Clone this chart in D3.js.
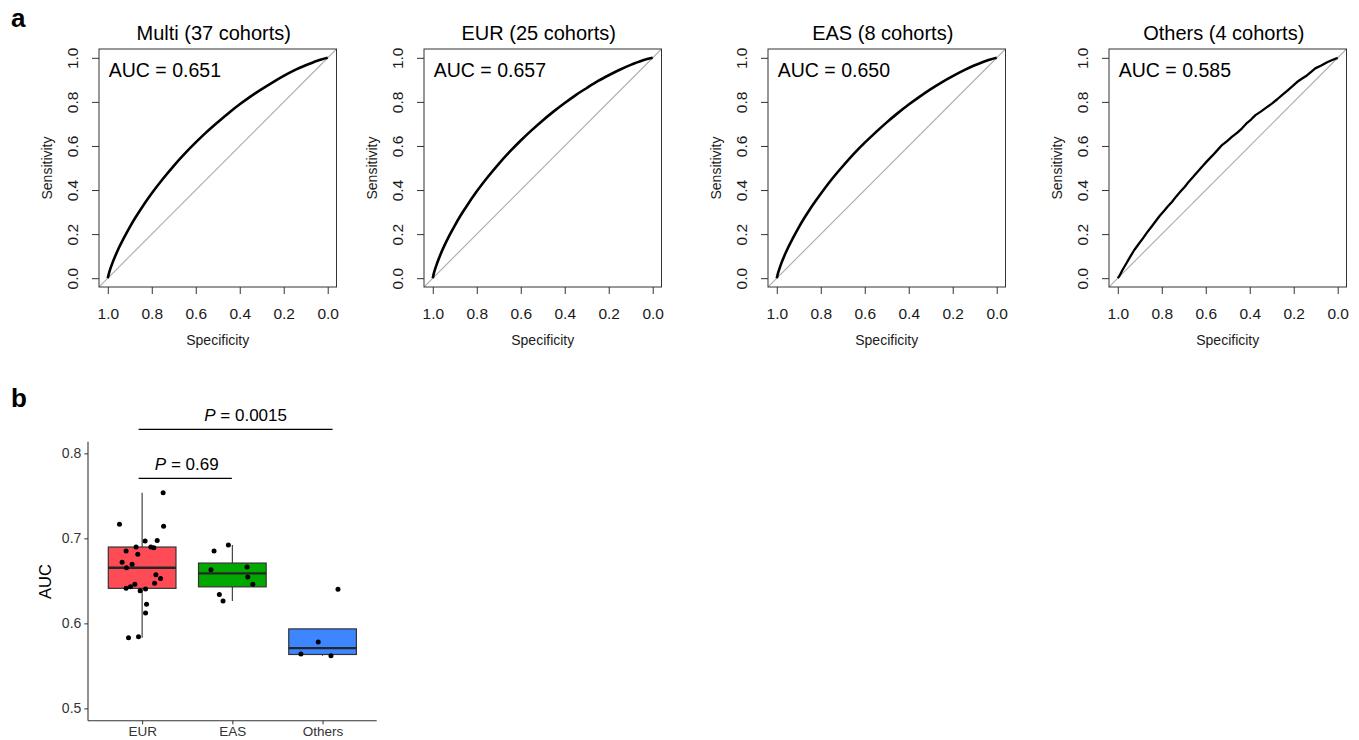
<!DOCTYPE html>
<html>
<head>
<meta charset="utf-8">
<script src="https://cdn.jsdelivr.net/npm/d3@7"></script>
<style>
  body { margin: 0; background: #fff; }
  svg { display: block; font-family: "Liberation Sans", Arial, Helvetica, sans-serif; }
</style>
</head>
<body>
<svg id="fig" width="1359" height="740"></svg>
<script>
// ---------- Panel a: ROC curves ----------
const rocTitles = ["Multi (37 cohorts)", "EUR (25 cohorts)", "EAS (8 cohorts)", "Others (4 cohorts)"];
const rocAUC = ["0.651", "0.657", "0.650", "0.585"];
const rocTicks = [1.0, 0.8, 0.6, 0.4, 0.2, 0.0];

// specificity grid shared by the three smooth curves
const smoothSpecificity = [1, 0.995, 0.99, 0.98, 0.965, 0.95, 0.925, 0.9, 0.875, 0.85, 0.8, 0.75, 0.7,
  0.65, 0.6, 0.55, 0.5, 0.45, 0.4, 0.35, 0.3, 0.25, 0.2, 0.15, 0.1, 0.05, 0];
const multiSensitivity = [0, 0.021, 0.038, 0.066, 0.103, 0.137, 0.186, 0.232, 0.274, 0.313, 0.385, 0.450, 0.510,
  0.565, 0.616, 0.664, 0.708, 0.750, 0.789, 0.825, 0.858, 0.889, 0.918, 0.944, 0.966, 0.986, 1];
const eurSensitivity = [0, 0.023, 0.040, 0.069, 0.108, 0.142, 0.193, 0.239, 0.282, 0.321, 0.394, 0.459, 0.519,
  0.574, 0.625, 0.672, 0.716, 0.757, 0.795, 0.831, 0.863, 0.894, 0.921, 0.946, 0.968, 0.987, 1];
const easSensitivity = [0, 0.021, 0.037, 0.066, 0.103, 0.136, 0.185, 0.231, 0.273, 0.312, 0.383, 0.449, 0.508,
  0.564, 0.615, 0.662, 0.707, 0.749, 0.788, 0.824, 0.858, 0.889, 0.917, 0.943, 0.966, 0.986, 1];

// the Others curve is a coarser, step-like empirical curve
const othersSpecificity = [1, 0.994, 0.98, 0.964, 0.942, 0.925, 0.905, 0.885, 0.865, 0.845, 0.829, 0.81,
  0.79, 0.772, 0.753, 0.735, 0.715, 0.695, 0.677, 0.657, 0.637, 0.617, 0.595, 0.57, 0.548, 0.526, 0.503,
  0.48, 0.455, 0.435, 0.412, 0.394, 0.374, 0.35, 0.325, 0.298, 0.275, 0.252, 0.23, 0.208, 0.185, 0.16,
  0.14, 0.122, 0.102, 0.075, 0.048, 0.025, 0];
const othersSensitivity = [0, 0.008, 0.035, 0.062, 0.1, 0.128, 0.155, 0.182, 0.21, 0.236, 0.257, 0.282,
  0.305, 0.326, 0.347, 0.37, 0.393, 0.415, 0.438, 0.46, 0.483, 0.506, 0.53, 0.556, 0.58, 0.604, 0.622,
  0.642, 0.662, 0.68, 0.705, 0.72, 0.74, 0.756, 0.774, 0.793, 0.812, 0.832, 0.85, 0.869, 0.89, 0.907,
  0.92, 0.935, 0.952, 0.965, 0.98, 0.99, 1];

// ---------- Panel b: per-cohort AUC ----------
const groups = ["EUR", "EAS", "Others"];
const groupColors = ["#FF4B55", "#00A800", "#3D86FF"];
const eurAUC = [0.7165, 0.7537, 0.7141, 0.6898, 0.6968, 0.6976, 0.6898, 0.6890, 0.6851, 0.6812, 0.6718,
  0.6694, 0.6654, 0.6572, 0.6529, 0.6471, 0.6459, 0.6431, 0.6412, 0.6404, 0.6384, 0.6224, 0.6121, 0.5831, 0.5843];
const eurJitter = [-0.251, 0.233, 0.238, -0.067, 0.033, 0.167, 0.097, 0.130, -0.178, -0.048, -0.222,
  -0.111, -0.173, 0.152, 0.204, 0.138, -0.081, -0.129, -0.178, 0.038, -0.022, 0.049, 0.038, -0.151, -0.040];
const easAUC = [0.6851, 0.6922, 0.6631, 0.6662, 0.6545, 0.6459, 0.6341, 0.6262];
const easJitter = [-0.203, -0.044, -0.237, 0.163, 0.171, 0.227, -0.144, -0.103];
const othersAUC = [0.5639, 0.5780, 0.5619, 0.6400];
const othersJitter = [-0.240, -0.048, 0.093, 0.171];
const aucTicks = [0.5, 0.6, 0.7, 0.8];

const compPairs = [["EUR", "EAS"], ["EUR", "Others"]];
const compP = ["0.69", "0.0015"];
const compLevel = [0.7706, 0.8282];

const svg = d3.select("#fig");
svg.append("rect").attr("width", 1359).attr("height", 740).attr("fill", "#fff");

// panel letters
svg.append("text").attr("x", 11).attr("y", 26.5).attr("font-size", 26).attr("font-weight", "bold").text("a");
svg.append("text").attr("x", 11).attr("y", 406.5).attr("font-size", 26).attr("font-weight", "bold").text("b");

// ---------- draw ROC panels ----------
const rocSeries = [
  { spec: smoothSpecificity, sens: multiSensitivity, curve: d3.curveMonotoneX, width: 2.6 },
  { spec: smoothSpecificity, sens: eurSensitivity, curve: d3.curveMonotoneX, width: 2.6 },
  { spec: smoothSpecificity, sens: easSensitivity, curve: d3.curveMonotoneX, width: 2.6 },
  { spec: othersSpecificity, sens: othersSensitivity, curve: d3.curveLinear, width: 2.3 }
];
const boxLefts = [99, 424, 768, 1109];
const boxTop = 49, boxW = 237.5, boxH = 238;
const axisColor = "#333";
const fmt1 = d3.format(".1f");

rocSeries.forEach((s, i) => {
  const L = boxLefts[i];
  const x = d3.scaleLinear().domain([1.04, -0.04]).range([L, L + boxW]);
  const y = d3.scaleLinear().domain([-0.04, 1.04]).range([boxTop + boxH, boxTop]);
  const g = svg.append("g");

  const clipId = "rocclip" + i;
  svg.append("clipPath").attr("id", clipId)
    .append("rect").attr("x", L).attr("y", boxTop).attr("width", boxW).attr("height", boxH);

  // chance diagonal
  g.append("line")
    .attr("clip-path", `url(#${clipId})`)
    .attr("x1", x(1.04)).attr("y1", y(-0.04))
    .attr("x2", x(-0.04)).attr("y2", y(1.04))
    .attr("stroke", "#ababab").attr("stroke-width", 1.1);

  // ROC curve
  const line = d3.line()
    .x(j => x(s.spec[j]))
    .y(j => y(s.sens[j]))
    .curve(s.curve);
  g.append("path")
    .datum(d3.range(s.spec.length))
    .attr("d", line)
    .attr("fill", "none")
    .attr("stroke", "#000")
    .attr("stroke-width", s.width)
    .attr("stroke-linejoin", "round");

  // frame
  g.append("rect")
    .attr("x", L).attr("y", boxTop).attr("width", boxW).attr("height", boxH)
    .attr("fill", "none").attr("stroke", axisColor).attr("stroke-width", 1);

  // x axis
  const gx = g.append("g")
    .attr("transform", `translate(0,${boxTop + boxH})`)
    .call(d3.axisBottom(x).tickValues(rocTicks).tickSize(7).tickPadding(13.5).tickFormat(fmt1));
  gx.select(".domain").remove();
  gx.selectAll(".tick line").attr("stroke", axisColor);
  gx.selectAll(".tick text").attr("fill", "#1a1a1a").attr("font-size", 15.5)
    .attr("font-family", "Liberation Sans, Arial, sans-serif");

  // y axis with rotated labels
  const gy = g.append("g")
    .attr("transform", `translate(${L},0)`)
    .call(d3.axisLeft(y).tickValues(rocTicks).tickSize(7).tickFormat(fmt1));
  gy.select(".domain").remove();
  gy.selectAll(".tick line").attr("stroke", axisColor);
  gy.selectAll(".tick text")
    .attr("x", 0).attr("dy", 0)
    .attr("transform", "translate(-21.5,0) rotate(-90)")
    .attr("text-anchor", "middle")
    .attr("fill", "#1a1a1a").attr("font-size", 15.5)
    .attr("font-family", "Liberation Sans, Arial, sans-serif");

  // axis titles
  g.append("text")
    .attr("x", L + boxW / 2).attr("y", 345)
    .attr("text-anchor", "middle").attr("font-size", 14).attr("fill", "#1a1a1a")
    .text("Specificity");
  g.append("text")
    .attr("transform", `translate(${L - 47.5},${boxTop + boxH / 2}) rotate(-90)`)
    .attr("text-anchor", "middle").attr("font-size", 14).attr("fill", "#1a1a1a")
    .text("Sensitivity");

  // panel title
  g.append("text")
    .attr("x", L + boxW / 2 - 4).attr("y", 39.5)
    .attr("text-anchor", "middle").attr("font-size", 20).attr("fill", "#000")
    .text(rocTitles[i]);

  // AUC annotation
  g.append("text")
    .attr("x", x(1) + 1).attr("y", boxTop + 27.5)
    .attr("font-size", 19.5).attr("fill", "#000")
    .text("AUC = " + rocAUC[i]);
});

// ---------- draw box plot panel ----------
const bx = d3.scaleLinear().domain([0.4, 3.6]).range([88, 376.7]);
const by = d3.scaleLinear().domain([0.4855, 0.8137]).range([720.7, 441.7]);
const unit = bx(2) - bx(1);
const gb = svg.append("g");

const groupValues = [eurAUC, easAUC, othersAUC];
const groupJitter = [eurJitter, easJitter, othersJitter];

groupValues.forEach((vals, i) => {
  const cx = bx(i + 1);
  const sorted = vals.slice().sort(d3.ascending);
  const q1 = d3.quantileSorted(sorted, 0.25);
  const med = d3.quantileSorted(sorted, 0.5);
  const q3 = d3.quantileSorted(sorted, 0.75);
  const iqr = q3 - q1;
  const hiW = d3.max(sorted.filter(v => v <= q3 + 1.5 * iqr));
  const loW = d3.min(sorted.filter(v => v >= q1 - 1.5 * iqr));
  const half = 0.375 * unit;

  // whiskers
  gb.append("line").attr("x1", cx).attr("x2", cx).attr("y1", by(q3)).attr("y2", by(hiW))
    .attr("stroke", "#333").attr("stroke-width", 1.1);
  gb.append("line").attr("x1", cx).attr("x2", cx).attr("y1", by(q1)).attr("y2", by(loW))
    .attr("stroke", "#333").attr("stroke-width", 1.1);
  // box
  gb.append("rect")
    .attr("x", cx - half).attr("y", by(q3))
    .attr("width", 2 * half).attr("height", by(q1) - by(q3))
    .attr("fill", groupColors[i]).attr("stroke", "#333").attr("stroke-width", 1.2);
  // median
  gb.append("line").attr("x1", cx - half).attr("x2", cx + half).attr("y1", by(med)).attr("y2", by(med))
    .attr("stroke", "#262626").attr("stroke-width", 2.3);
});

// jittered cohort points
groupValues.forEach((vals, i) => {
  gb.selectAll(null).data(vals).enter().append("circle")
    .attr("cx", (d, j) => bx(i + 1) + groupJitter[i][j] * unit)
    .attr("cy", d => by(d))
    .attr("r", 2.5)
    .attr("fill", "#000");
});

// axes
gb.append("line").attr("x1", 88).attr("x2", 88).attr("y1", 441.7).attr("y2", 720.7)
  .attr("stroke", "#333").attr("stroke-width", 1.1);
gb.append("line").attr("x1", 88).attr("x2", 376.7).attr("y1", 720.7).attr("y2", 720.7)
  .attr("stroke", "#333").attr("stroke-width", 1.1);

const yAxB = gb.append("g").attr("transform", "translate(88,0)")
  .call(d3.axisLeft(by).tickValues(aucTicks).tickSize(3.7).tickPadding(3).tickFormat(fmt1));
yAxB.select(".domain").remove();
yAxB.selectAll(".tick line").attr("stroke", "#333");
yAxB.selectAll(".tick text").attr("font-size", 14).attr("fill", "#333")
  .attr("font-family", "Liberation Sans, Arial, sans-serif");

const xAxB = gb.append("g").attr("transform", "translate(0,720.7)")
  .call(d3.axisBottom(d3.scalePoint().domain(groups).range([bx(1), bx(3)]))
    .tickSize(3.7).tickPadding(2.5));
xAxB.select(".domain").remove();
xAxB.selectAll(".tick line").attr("stroke", "#333");
xAxB.selectAll(".tick text").attr("font-size", 13.5).attr("fill", "#333")
  .attr("font-family", "Liberation Sans, Arial, sans-serif");

gb.append("text")
  .attr("transform", "translate(51,581.5) rotate(-90)")
  .attr("text-anchor", "middle").attr("font-size", 16.5).attr("fill", "#000")
  .text("AUC");

// significance brackets
const labelShift = [1.5, 10];
compPairs.forEach((pair, k) => {
  const x1 = bx(groups.indexOf(pair[0]) + 1) - 3.5;
  const x2 = bx(groups.indexOf(pair[1]) + 1) + (k === 0 ? -0.5 : 10);
  const yy = by(compLevel[k]);
  gb.append("line").attr("x1", x1).attr("x2", x2).attr("y1", yy).attr("y2", yy)
    .attr("stroke", "#000").attr("stroke-width", 1.3);
  const t = gb.append("text")
    .attr("x", (x1 + x2) / 2 + labelShift[k]).attr("y", yy - 8.5)
    .attr("text-anchor", "middle").attr("font-size", 17).attr("fill", "#000");
  t.append("tspan").attr("font-style", "italic").text("P");
  t.append("tspan").text(" = " + compP[k]);
});
</script>
</body>
</html>
